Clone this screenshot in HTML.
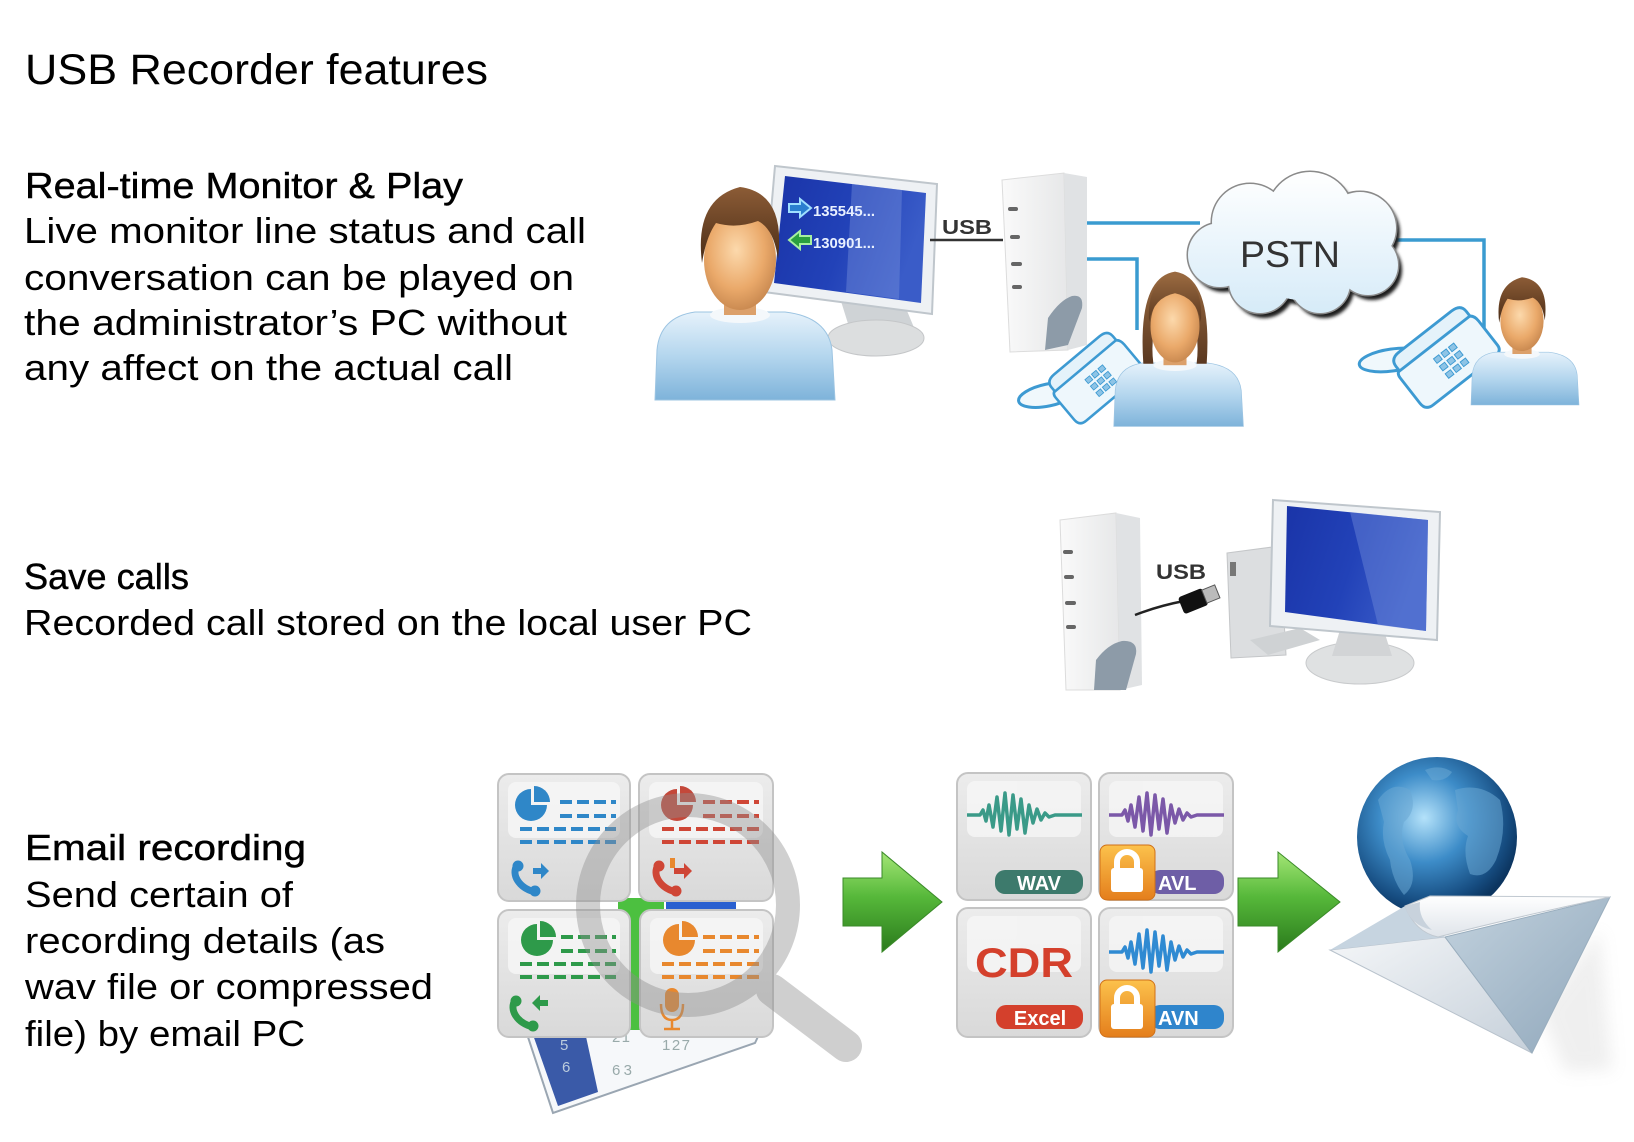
<!DOCTYPE html>
<html><head><meta charset="utf-8">
<style>
html,body{margin:0;padding:0;background:#fff;}
svg{display:block;}
.t{font-family:"Liberation Sans",sans-serif;fill:#000;}
.h{stroke:#000;stroke-width:0.45;}
.a{font-family:"Liberation Sans",sans-serif;}
</style></head><body>
<svg width="1634" height="1142" viewBox="0 0 1634 1142" xmlns="http://www.w3.org/2000/svg">
<defs>
 <radialGradient id="skin" cx="0.45" cy="0.4" r="0.65"><stop offset="0" stop-color="#fcd9ac"/><stop offset="0.6" stop-color="#eaa96a"/><stop offset="1" stop-color="#c4844c"/></radialGradient>
 <linearGradient id="hair" x1="0" y1="0" x2="0" y2="1"><stop offset="0" stop-color="#8c5c36"/><stop offset="1" stop-color="#4a2c16"/></linearGradient>
 <linearGradient id="whair" x1="0" y1="0" x2="0" y2="1"><stop offset="0" stop-color="#9a6a40"/><stop offset="1" stop-color="#5a3820"/></linearGradient>
 <linearGradient id="shirt" x1="0" y1="0" x2="0" y2="1"><stop offset="0" stop-color="#e6f2fb"/><stop offset="0.5" stop-color="#b4d6ee"/><stop offset="1" stop-color="#7eb3da"/></linearGradient>
 <linearGradient id="scr" x1="0" y1="0" x2="1" y2="0.3"><stop offset="0" stop-color="#1a34a8"/><stop offset="0.55" stop-color="#2242b8"/><stop offset="1" stop-color="#3a5cc8"/></linearGradient>
 <linearGradient id="grn" x1="0" y1="0" x2="0" y2="1"><stop offset="0" stop-color="#a4e676"/><stop offset="0.45" stop-color="#56b83a"/><stop offset="1" stop-color="#2a7a1c"/></linearGradient>
 <radialGradient id="globe" cx="0.42" cy="0.38" r="0.62"><stop offset="0" stop-color="#b4e2fa"/><stop offset="0.45" stop-color="#3d8cc8"/><stop offset="0.85" stop-color="#164c80"/><stop offset="1" stop-color="#0c3560"/></radialGradient>
 <linearGradient id="tile" x1="0" y1="0" x2="0" y2="1"><stop offset="0" stop-color="#ececec"/><stop offset="1" stop-color="#d9d9d9"/></linearGradient>
 <linearGradient id="lock" x1="0" y1="0" x2="0" y2="1"><stop offset="0" stop-color="#fcc24c"/><stop offset="1" stop-color="#e47e1c"/></linearGradient>
 <linearGradient id="cloud" gradientUnits="userSpaceOnUse" x1="0" y1="172" x2="0" y2="313"><stop offset="0" stop-color="#ffffff"/><stop offset="1" stop-color="#d6ebf8"/></linearGradient>
 <linearGradient id="dev" x1="0" y1="0" x2="1" y2="0"><stop offset="0" stop-color="#fafafa"/><stop offset="1" stop-color="#e6e7e8"/></linearGradient>
 <linearGradient id="envw" x1="0" y1="0" x2="1" y2="1"><stop offset="0" stop-color="#f4f6f8"/><stop offset="1" stop-color="#c6d0da"/></linearGradient>
 <linearGradient id="envb" x1="0" y1="0" x2="1" y2="1"><stop offset="0" stop-color="#c2d2de"/><stop offset="1" stop-color="#8fa6ba"/></linearGradient>
 <linearGradient id="flap" x1="0" y1="0" x2="0" y2="1"><stop offset="0" stop-color="#ffffff"/><stop offset="1" stop-color="#dfe4ea"/></linearGradient>
 <filter id="bl" x="-50%" y="-50%" width="200%" height="200%"><feGaussianBlur stdDeviation="8"/></filter>
 <filter id="bl2" x="-20%" y="-20%" width="140%" height="140%"><feGaussianBlur stdDeviation="1.5"/></filter>

 <g id="man">
  <path d="M-85,145 L-83,95 Q-80,62 -45,57 L45,57 Q88,62 92,95 L95,145 Z" fill="url(#shirt)" stroke="#9cc4e2" stroke-width="1"/>
  <ellipse cx="0" cy="60" rx="30" ry="8" fill="#f4f8fb"/>
  <rect x="-16" y="28" width="32" height="32" fill="#dca06a"/>
  <ellipse cx="0" cy="5" rx="36" ry="50" fill="url(#skin)"/>
  <path d="M-38,8 Q-46,-56 0,-68 Q46,-62 38,4 Q34,-26 18,-34 Q-4,-26 -24,-32 Q-34,-18 -38,8 Z" fill="url(#hair)"/>
 </g>
 <g id="woman">
  <path d="M-85,145 L-83,95 Q-80,62 -45,57 L45,57 Q88,62 92,95 L95,145 Z" fill="url(#shirt)" stroke="#9cc4e2" stroke-width="1"/>
  <ellipse cx="0" cy="60" rx="30" ry="8" fill="#f4f8fb"/>
  <path d="M-44,58 Q-52,-62 0,-70 Q52,-62 44,58 L30,58 Q38,-4 0,-36 Q-38,-4 -30,58 Z" fill="url(#whair)"/>
  <rect x="-16" y="28" width="32" height="32" fill="#dca06a"/>
  <ellipse cx="0" cy="6" rx="34" ry="50" fill="url(#skin)"/>
  <path d="M-36,0 Q-40,-58 0,-66 Q40,-58 36,0 Q30,-34 0,-40 Q-30,-34 -36,0 Z" fill="url(#whair)"/>
 </g>
 <g id="phone">
  <path d="M-50,-18 Q-50,-26 -40,-26 L40,-26 Q52,-26 52,-14 L52,18 Q52,26 42,26 L-40,26 Q-50,26 -50,16 Z" fill="#eef7fc" stroke="#3d9ad2" stroke-width="3"/>
  <path d="M-46,-30 Q-46,-40 -34,-40 L36,-40 Q48,-40 48,-30 L48,-24 L-46,-24 Z" fill="#e4f2fa" stroke="#3d9ad2" stroke-width="3"/>
  <g fill="#8ec4e6" stroke="#3d9ad2" stroke-width="1">
   <rect x="-10" y="-12" width="7" height="6"/><rect x="0" y="-12" width="7" height="6"/><rect x="10" y="-12" width="7" height="6"/>
   <rect x="-10" y="-2" width="7" height="6"/><rect x="0" y="-2" width="7" height="6"/><rect x="10" y="-2" width="7" height="6"/>
   <rect x="-10" y="8" width="7" height="6"/><rect x="0" y="8" width="7" height="6"/><rect x="10" y="8" width="7" height="6"/>
  </g>
 </g>
 <g id="ph">
  <path d="M3,3 C-3,13 5,26 21,30" fill="none" stroke-width="7" stroke-linecap="round"/>
  <circle cx="4" cy="4" r="5"/><circle cx="21" cy="29" r="5"/>
 </g>
</defs>
<rect width="1634" height="1142" fill="#fff"/>

<!-- TEXT -->
<text class="t" x="25" y="84" font-size="43" textLength="463" lengthAdjust="spacingAndGlyphs">USB Recorder features</text>
<text class="t h" x="25" y="198" font-size="36" textLength="438" lengthAdjust="spacingAndGlyphs">Real-time Monitor &amp; Play</text>
<text class="t" x="24" y="243" font-size="36" textLength="562" lengthAdjust="spacingAndGlyphs">Live monitor line status and call</text>
<text class="t" x="24" y="290" font-size="36" textLength="550" lengthAdjust="spacingAndGlyphs">conversation can be played on</text>
<text class="t" x="24" y="335" font-size="36" textLength="543" lengthAdjust="spacingAndGlyphs">the administrator’s PC without</text>
<text class="t" x="24" y="380" font-size="36" textLength="489" lengthAdjust="spacingAndGlyphs">any affect on the actual call</text>

<text class="t h" x="24" y="589" font-size="36" textLength="165" lengthAdjust="spacingAndGlyphs">Save calls</text>
<text class="t" x="24" y="635" font-size="36" textLength="728" lengthAdjust="spacingAndGlyphs">Recorded call stored on the local user PC</text>

<text class="t h" x="25" y="860" font-size="36" textLength="281" lengthAdjust="spacingAndGlyphs">Email recording</text>
<text class="t" x="25" y="907" font-size="36" textLength="268" lengthAdjust="spacingAndGlyphs">Send certain of</text>
<text class="t" x="25" y="953" font-size="36" textLength="360" lengthAdjust="spacingAndGlyphs">recording details (as</text>
<text class="t" x="25" y="999" font-size="36" textLength="408" lengthAdjust="spacingAndGlyphs">wav file or compressed</text>
<text class="t" x="25" y="1046" font-size="36" textLength="280" lengthAdjust="spacingAndGlyphs">file) by email PC</text>

<!-- TOP DIAGRAM -->
<g fill="none" stroke="#3a9bd0" stroke-width="3.5">
 <path d="M1087,223 L1200,223"/>
 <path d="M1087,259 L1137,259 L1137,330"/>
 <path d="M1395,240 L1484,240 L1484,335"/>
</g>
<path d="M840,298 L905,306 L915,330 L850,330 Z" fill="#cfd3d6"/>
<ellipse cx="876" cy="338" rx="48" ry="18" fill="#dcdedf" stroke="#c4c6c8"/>
<polygon points="775,166 937,184 932,314 764,292" fill="#eef1f4" stroke="#bfc6cc" stroke-width="2"/>
<polygon points="785,176 926,193 921,303 774,283" fill="url(#scr)"/>
<polygon points="852,184 902,190 899,299 846,292" fill="#7a94dc" opacity="0.4"/>
<path d="M789,204 L800,204 L800,199 L811,208 L800,217 L800,212 L789,212 Z" fill="#2a7fd0" stroke="#9fe0ff" stroke-width="2"/>
<text class="a" x="813" y="216" font-size="15" font-weight="bold" fill="#e8f0ff" textLength="62" lengthAdjust="spacingAndGlyphs">135545...</text>
<path d="M811,236 L800,236 L800,231 L789,240 L800,249 L800,244 L811,244 Z" fill="#2aa040" stroke="#a6f0a0" stroke-width="2"/>
<text class="a" x="813" y="248" font-size="15" font-weight="bold" fill="#e8f0ff" textLength="62" lengthAdjust="spacingAndGlyphs">130901...</text>
<use href="#man" transform="translate(740,255)"/>
<text class="a" x="942" y="234" font-size="20" font-weight="bold" fill="#333" textLength="50" lengthAdjust="spacingAndGlyphs">USB</text>
<line x1="930" y1="240" x2="1003" y2="240" stroke="#333" stroke-width="2.5"/>
<polygon points="1002,180 1064,173 1068,350 1010,352" fill="url(#dev)" stroke="#dcdcdc"/>
<polygon points="1064,173 1087,177 1087,345 1068,350" fill="#e0e2e4"/>
<g fill="#666">
 <rect x="1008" y="207" width="10" height="4" rx="2"/><rect x="1010" y="235" width="10" height="4" rx="2"/>
 <rect x="1011" y="262" width="11" height="4" rx="2"/><rect x="1012" y="285" width="10" height="4" rx="2"/>
</g>
<path d="M1045,350 L1048,318 Q1060,300 1072,296 Q1084,294 1082,308 L1068,345 Z" fill="#8d9ba8"/>
<g fill="#1a1a1a" filter="url(#bl2)" transform="translate(4,5)">
 <circle cx="1250" cy="222" r="38"/><circle cx="1310" cy="215" r="43"/><circle cx="1360" cy="228" r="36"/>
 <circle cx="1368" cy="265" r="30"/><circle cx="1320" cy="283" r="30"/><circle cx="1260" cy="282" r="31"/>
 <circle cx="1220" cy="255" r="32"/><circle cx="1300" cy="250" r="50"/>
</g>
<g fill="url(#cloud)" stroke="#8a8a8a" stroke-width="3">
 <circle cx="1250" cy="222" r="38"/><circle cx="1310" cy="215" r="43"/><circle cx="1360" cy="228" r="36"/>
 <circle cx="1368" cy="265" r="30"/><circle cx="1320" cy="283" r="30"/><circle cx="1260" cy="282" r="31"/>
 <circle cx="1220" cy="255" r="32"/>
</g>
<g fill="url(#cloud)">
 <circle cx="1250" cy="222" r="38"/><circle cx="1310" cy="215" r="43"/><circle cx="1360" cy="228" r="36"/>
 <circle cx="1368" cy="265" r="30"/><circle cx="1320" cy="283" r="30"/><circle cx="1260" cy="282" r="31"/>
 <circle cx="1220" cy="255" r="32"/><circle cx="1300" cy="250" r="50"/>
</g>
<text class="a" x="1240" y="267" font-size="37" fill="#333" textLength="100" lengthAdjust="spacingAndGlyphs">PSTN</text>
<ellipse cx="1048" cy="395" rx="30" ry="11" transform="rotate(-12 1048 395)" fill="#f0f8fc" stroke="#3d9ad2" stroke-width="3"/>
<use href="#phone" transform="translate(1098,382) rotate(-40) scale(0.85)"/>
<ellipse cx="1392" cy="360" rx="33" ry="11" transform="rotate(-8 1392 360)" fill="#f0f8fc" stroke="#3d9ad2" stroke-width="3"/>
<use href="#phone" transform="translate(1448,362) rotate(-38) scale(0.95)"/>
<use href="#woman" transform="translate(1175,322) scale(0.72)"/>
<use href="#man" transform="translate(1522,318) scale(0.6)"/>

<!-- SECTION 2 IMAGE -->
<polygon points="1060,520 1116,513 1120,690 1066,690" fill="url(#dev)" stroke="#dcdcdc"/>
<polygon points="1116,513 1140,518 1142,685 1120,690" fill="#e0e2e4"/>
<g fill="#666">
 <rect x="1063" y="550" width="10" height="4" rx="2"/><rect x="1064" y="575" width="10" height="4" rx="2"/>
 <rect x="1065" y="601" width="11" height="4" rx="2"/><rect x="1066" y="625" width="10" height="4" rx="2"/>
</g>
<path d="M1094,690 L1096,660 Q1108,644 1122,641 Q1138,640 1136,654 L1126,690 Z" fill="#8d9ba8"/>
<text class="a" x="1156" y="579" font-size="21" font-weight="bold" fill="#333" textLength="50" lengthAdjust="spacingAndGlyphs">USB</text>
<path d="M1135,615 Q1158,606 1184,601" fill="none" stroke="#222" stroke-width="2.5"/>
<g transform="rotate(-22 1196 600)">
 <rect x="1180" y="591" width="26" height="18" rx="3" fill="#111"/>
 <rect x="1205" y="593" width="14" height="14" fill="#bbb" stroke="#555"/>
</g>
<polygon points="1227,553 1280,546 1286,655 1231,658" fill="#dcdee0" stroke="#c4c6c8"/>
<rect x="1230" y="562" width="6" height="14" fill="#777"/>
<path d="M1250,640 L1300,628 L1320,640 L1268,655 Z" fill="#cfd2d4"/>
<ellipse cx="1360" cy="663" rx="54" ry="21" fill="#dfe1e2" stroke="#c8cacc"/>
<path d="M1340,630 L1385,634 L1392,656 L1332,656 Z" fill="#d2d4d6"/>
<polygon points="1273,500 1440,512 1437,640 1270,626" fill="#eef1f4" stroke="#bfc6cc" stroke-width="2"/>
<polygon points="1287,506 1428,520 1426,631 1285,612" fill="url(#scr)"/>
<polygon points="1350,512 1428,520 1426,631 1378,625" fill="#6f8ada" opacity="0.45"/>

<!-- SECTION 3 LEFT -->
<polygon points="525,1028 762,1028 755,1043 553,1113" fill="#f6f8fa" stroke="#9aa6b2" stroke-width="2"/>
<polygon points="532,1032 585,1032 598,1092 558,1106" fill="#3a5aa8"/>
<g class="a" fill="#9aa" font-size="15">
 <text x="560" y="1050" fill="#bcd">5</text><text x="562" y="1072" fill="#bcd">6</text>
 <text x="612" y="1042" textLength="18">21</text><text x="612" y="1075" textLength="20">63</text>
 <text x="662" y="1050" textLength="28">127</text>
</g>
<rect x="618" y="898" width="46" height="132" fill="#4cc040"/>
<rect x="666" y="900" width="70" height="10" fill="#2a60d0"/>
<g stroke="#c4c4c4" stroke-width="2" fill="url(#tile)">
 <rect x="498" y="774" width="132" height="127" rx="11"/>
 <rect x="639" y="774" width="134" height="127" rx="11"/>
 <rect x="498" y="910" width="132" height="127" rx="11"/>
 <rect x="640" y="910" width="133" height="127" rx="11"/>
</g>
<g fill="#f6f6f6" opacity="0.8">
 <rect x="508" y="782" width="112" height="56" rx="8"/>
 <rect x="649" y="782" width="114" height="56" rx="8"/>
 <rect x="508" y="918" width="112" height="56" rx="8"/>
 <rect x="650" y="918" width="113" height="56" rx="8"/>
</g>
<g fill="#2f87c8" stroke="#2f87c8">
 <path d="M531,805 L531,789 A16,16 0 1,0 547,805 Z" stroke="none"/>
 <path d="M534,802 L534,786 A16,16 0 0,1 550,802 Z" stroke="none"/>
 <g stroke-width="4" stroke-dasharray="12 5" fill="none">
  <line x1="560" y1="802" x2="616" y2="802"/><line x1="560" y1="816" x2="616" y2="816"/>
  <line x1="520" y1="829" x2="616" y2="829"/><line x1="520" y1="842" x2="616" y2="842"/>
 </g>
 <use href="#ph" transform="translate(514,862)"/>
 <polygon points="533,868 541,868 541,863 549,871 541,879 541,874 533,874" stroke="none"/>
</g>
<g fill="#cf4636" stroke="#cf4636">
 <path d="M677,805 L677,789 A16,16 0 1,0 693,805 Z" stroke="none" fill="#c4483a"/>
 <path d="M680,802 L680,786 A16,16 0 0,1 696,802 Z" stroke="none" fill="#c4483a"/>
 <g stroke-width="4" stroke-dasharray="12 5" fill="none">
  <line x1="703" y1="802" x2="759" y2="802"/><line x1="703" y1="816" x2="759" y2="816"/>
  <line x1="662" y1="829" x2="759" y2="829"/><line x1="662" y1="842" x2="759" y2="842"/>
 </g>
 <use href="#ph" transform="translate(655,862)"/>
 <polygon points="674,868 684,868 684,863 692,871 684,879 684,874 674,874" stroke="none"/>
 <rect x="670" y="858" width="5" height="10" fill="#e8882e" stroke="none"/>
</g>
<g fill="#2e9a4a" stroke="#2e9a4a">
 <path d="M537,940 L537,924 A16,16 0 1,0 553,940 Z" stroke="none"/>
 <path d="M540,937 L540,921 A16,16 0 0,1 556,937 Z" stroke="none"/>
 <g stroke-width="4" stroke-dasharray="12 5" fill="none">
  <line x1="561" y1="937" x2="616" y2="937"/><line x1="561" y1="951" x2="616" y2="951"/>
  <line x1="520" y1="964" x2="616" y2="964"/><line x1="520" y1="977" x2="616" y2="977"/>
 </g>
 <use href="#ph" transform="translate(512,997)"/>
 <polygon points="548,1000 540,1000 540,995 532,1003 540,1011 540,1006 548,1006" stroke="none"/>
</g>
<g fill="#e8882e" stroke="#e8882e">
 <path d="M679,940 L679,924 A16,16 0 1,0 695,940 Z" stroke="none"/>
 <path d="M682,937 L682,921 A16,16 0 0,1 698,937 Z" stroke="none"/>
 <g stroke-width="4" stroke-dasharray="12 5" fill="none">
  <line x1="703" y1="937" x2="759" y2="937"/><line x1="703" y1="951" x2="759" y2="951"/>
  <line x1="662" y1="964" x2="759" y2="964"/><line x1="662" y1="977" x2="759" y2="977"/>
 </g>
 <rect x="665" y="988" width="14" height="24" rx="7" stroke="none"/>
 <path d="M661,1004 Q661,1020 672,1020 Q683,1020 683,1004" fill="none" stroke-width="2.5"/>
 <line x1="672" y1="1020" x2="672" y2="1028" stroke-width="2.5"/>
 <line x1="664" y1="1029" x2="680" y2="1029" stroke-width="2.5"/>
</g>
<g opacity="0.42" stroke="#8e8e8e" fill="none">
 <circle cx="688" cy="905" r="100" stroke-width="24"/>
 <line x1="772" y1="990" x2="846" y2="1046" stroke-width="32" stroke-linecap="round"/>
</g>

<polygon points="843,878 882,878 882,852 942,902 882,952 882,926 843,926" fill="url(#grn)" stroke="#3a8a28" stroke-width="1"/>
<polygon points="1238,878 1278,878 1278,852 1340,902 1278,952 1278,926 1238,926" fill="url(#grn)" stroke="#3a8a28" stroke-width="1"/>

<!-- SECTION 3 RIGHT TILES -->
<g stroke="#c4c4c4" stroke-width="2" fill="url(#tile)">
 <rect x="957" y="773" width="134" height="127" rx="11"/>
 <rect x="1099" y="773" width="134" height="127" rx="11"/>
 <rect x="957" y="908" width="134" height="129" rx="11"/>
 <rect x="1099" y="908" width="134" height="129" rx="11"/>
</g>
<g fill="#f6f6f6" opacity="0.8">
 <rect x="967" y="781" width="114" height="56" rx="8"/>
 <rect x="1109" y="781" width="114" height="56" rx="8"/>
 <rect x="967" y="916" width="114" height="56" rx="8"/>
 <rect x="1109" y="916" width="114" height="56" rx="8"/>
</g>
<g fill="none" stroke-width="3.5" stroke-linejoin="round">
 <polyline transform="translate(967,815)" stroke="#3a9a88" points="0,0 13,0 16,-5 19,6 22,-10 26,12 30,-18 34,16 38,-22 42,20 46,-20 50,14 54,-16 58,18 62,-10 66,8 70,-6 74,5 78,-2 82,2 88,0 115,0"/>
 <polyline transform="translate(1109,815)" stroke="#7b58a8" points="0,0 13,0 16,-5 19,6 22,-10 26,12 30,-18 34,16 38,-22 42,20 46,-20 50,14 54,-16 58,18 62,-10 66,8 70,-6 74,5 78,-2 82,2 88,0 115,0"/>
 <polyline transform="translate(1109,952)" stroke="#2f8ad2" points="0,0 13,0 16,-5 19,6 22,-10 26,12 30,-18 34,16 38,-22 42,20 46,-20 50,14 54,-16 58,18 62,-10 66,8 70,-6 74,5 78,-2 82,2 88,0 115,0"/>
</g>
<rect x="995" y="870" width="88" height="24" rx="10" fill="#3d7a6c"/>
<text class="a" x="1039" y="890" font-size="20" font-weight="bold" fill="#fff" text-anchor="middle">WAV</text>
<rect x="1150" y="870" width="74" height="24" rx="10" fill="#6e5ea6"/>
<text class="a" x="1158" y="890" font-size="20" font-weight="bold" fill="#fff">AVL</text>
<text class="a" x="975" y="977" font-size="42" font-weight="bold" fill="#d4402c" textLength="98" lengthAdjust="spacingAndGlyphs">CDR</text>
<rect x="996" y="1005" width="87" height="24" rx="10" fill="#d4402c"/>
<text class="a" x="1040" y="1025" font-size="20" font-weight="bold" fill="#fff" text-anchor="middle">Excel</text>
<rect x="1150" y="1005" width="74" height="24" rx="10" fill="#2f85cc"/>
<text class="a" x="1158" y="1025" font-size="20" font-weight="bold" fill="#fff">AVN</text>
<g>
 <rect x="1100" y="845" width="55" height="55" rx="7" fill="url(#lock)" stroke="#d07018"/>
 <path d="M1117,870 L1117,862 A10,10 0 0,1 1137,862 L1137,870" fill="none" stroke="#fff" stroke-width="6"/>
 <rect x="1111" y="868" width="32" height="24" rx="3" fill="#fff"/>
 <rect x="1100" y="980" width="55" height="57" rx="7" fill="url(#lock)" stroke="#d07018"/>
 <path d="M1117,1006 L1117,998 A10,10 0 0,1 1137,998 L1137,1006" fill="none" stroke="#fff" stroke-width="6"/>
 <rect x="1111" y="1004" width="32" height="25" rx="3" fill="#fff"/>
</g>

<!-- globe & envelope -->
<circle cx="1437" cy="837" r="80" fill="url(#globe)"/>
<g fill="#6aa8d4" opacity="0.55">
 <path d="M1378,800 Q1392,780 1410,790 Q1418,810 1404,822 Q1398,840 1410,860 Q1418,884 1404,895 Q1392,880 1390,860 Q1380,840 1384,822 Z"/>
 <path d="M1455,790 Q1480,782 1500,800 Q1508,830 1496,860 Q1486,880 1470,874 Q1462,852 1468,836 Q1452,826 1458,810 Z"/>
 <path d="M1425,770 Q1440,764 1452,772 Q1446,782 1432,780 Z"/>
</g>
<polygon points="1540,1010 1600,930 1612,1070 1565,1072" fill="#aaa" opacity="0.18" filter="url(#bl)"/>
<polygon points="1330,950 1445,937 1532,1053" fill="url(#envw)" stroke="#b8c2cc"/>
<polygon points="1445,937 1610,897 1532,1053" fill="url(#envb)" stroke="#9aaebe"/>
<polygon points="1330,950 1405,906 1445,937" fill="#c6d4e0"/>
<path d="M1405,906 L1430,896 L1610,897 Q1520,916 1438,937 Q1415,932 1405,906 Z" fill="url(#flap)" stroke="#c0c8d0"/>
<path d="M1405,906 Q1410,925 1432,930 Q1418,918 1420,902 Z" fill="#c8d2dc"/>
</svg>
</body></html>
